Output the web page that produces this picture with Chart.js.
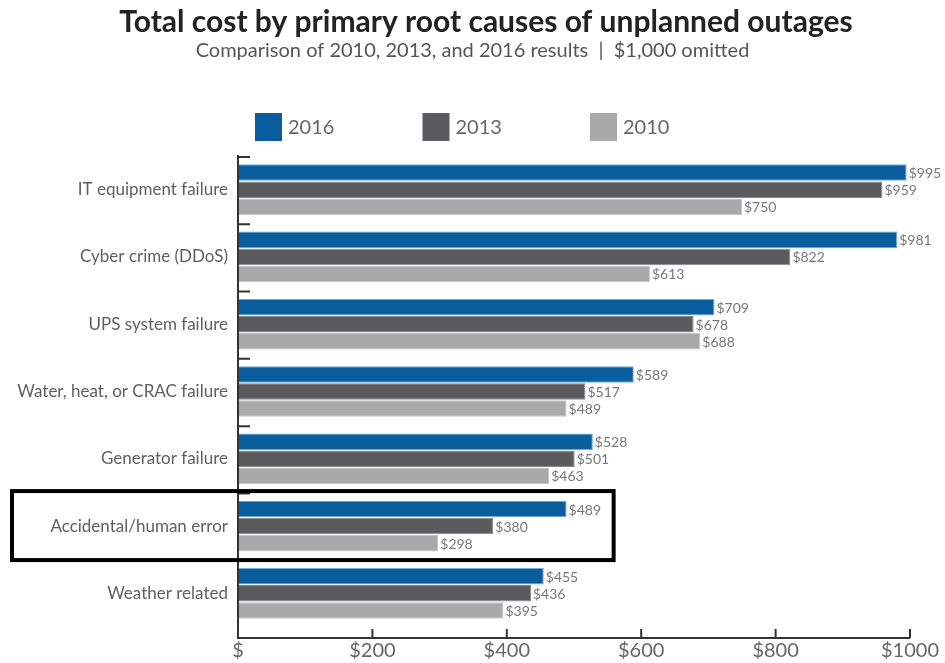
<!DOCTYPE html>
<html>
<head>
<meta charset="utf-8">
<script src="https://cdn.jsdelivr.net/npm/chart.js@4.4.1/dist/chart.umd.min.js"></script>
<style>
  html, body { margin: 0; padding: 0; background: #fff; }
  #wrap { width: 945px; height: 663px; position: relative; }
</style>
</head>
<body>
<div id="wrap"><canvas id="myChart"></canvas></div>
<script>
// data ($1,000 omitted)
const categories = ["IT equipment failure", "Cyber crime (DDoS)", "UPS system failure",
    "Water, heat, or CRAC failure", "Generator failure", "Accidental/human error", "Weather related"];
const years = ["2016", "2013", "2010"];
const cost2016 = [995, 981, 709, 589, 528, 489, 455];
const cost2013 = [959, 822, 678, 517, 501, 380, 436];
const cost2010 = [750, 613, 688, 489, 463, 298, 395];
const xTicks = [0, 200, 400, 600, 800, 1000];
const highlighted = "Accidental/human error";
const titleText = "Total cost by primary root causes of unplanned outages";

const colors = ["#0b5e9d", "#5b5b5d", "#a9a9a9"];
const borders = ["#6aaee0", "#8a8a8a", "#c8c8c8"];
const font = "Lato, 'Open Sans', sans-serif";

// title, legend, axis lines, value labels and the highlight box
const decor = {
    id: "decor",
    afterDatasetsDraw(chart) {
        const ctx = chart.ctx;
        ctx.save();
        ctx.font = "14px " + font;
        ctx.fillStyle = "#777";
        ctx.textBaseline = "middle";
        ctx.textAlign = "left";
        chart.data.datasets.forEach((ds, i) => {
            chart.getDatasetMeta(i).data.forEach((bar, j) => {
                ctx.fillText("$" + ds.data[j], bar.x + 2, bar.y + 1);
            });
        });
        ctx.restore();
    },
    afterDraw(chart) {
        const ctx = chart.ctx;
        const area = chart.chartArea;
        const x = chart.scales.x, y = chart.scales.y;
        const axisY = area.bottom + 11;
        ctx.save();

        // title (sits a little right of centre in the original)
        ctx.font = "bold 30px " + font;
        ctx.fillStyle = "#222";
        ctx.textAlign = "center";
        ctx.textBaseline = "middle";
        ctx.fillText(titleText, 486, 22);

        // legend
        ctx.font = "20px " + font;
        ctx.textAlign = "left";
        chart.data.datasets.forEach((ds, i) => {
            const lx = area.left + 17 + i * 167.5;
            ctx.fillStyle = ds.backgroundColor;
            ctx.fillRect(lx, 113, 27, 28);
            ctx.fillStyle = "#666";
            ctx.fillText(ds.label, lx + 33, 128);
        });

        // axes
        ctx.strokeStyle = "#333";
        ctx.lineWidth = 2;
        ctx.beginPath();
        ctx.moveTo(area.left, area.top - 1);
        ctx.lineTo(area.left, axisY);
        ctx.lineTo(x.getPixelForValue(1000), axisY);
        xTicks.slice(1).forEach(v => {
            const px = x.getPixelForValue(v);
            ctx.moveTo(px, axisY);
            ctx.lineTo(px, axisY - 9);
        });
        const step = (area.bottom - area.top) / categories.length;
        for (let i = 0; i < categories.length; i++) {
            const py = area.top + i * step + 1;
            ctx.moveTo(area.left, py);
            ctx.lineTo(area.left + 12, py);
        }
        ctx.stroke();

        // highlight box
        const idx = categories.indexOf(highlighted);
        const cy = y.getPixelForValue(idx);
        ctx.strokeStyle = "#000";
        ctx.lineWidth = 4;
        ctx.strokeRect(12, cy - 35, x.getPixelForValue(559) - 12, 69);
        ctx.restore();
    }
};

const ctx = document.getElementById("myChart").getContext("2d");
const myChart = new Chart(ctx, {
    type: "bar",
    data: {
        labels: categories,
        datasets: [
            { label: years[0], data: cost2016, backgroundColor: colors[0], borderColor: borders[0] },
            { label: years[1], data: cost2013, backgroundColor: colors[1], borderColor: borders[1] },
            { label: years[2], data: cost2010, backgroundColor: colors[2], borderColor: borders[2] }
        ]
    },
    options: {
        indexAxis: "y",
        responsive: true,
        maintainAspectRatio: false,
        animation: false,
        datasets: {
            bar: { barPercentage: 0.97, categoryPercentage: 0.76, borderWidth: 1, borderSkipped: false }
        },
        layout: { padding: 0 },
        plugins: {
            legend: { display: false },
            tooltip: { enabled: false },
            subtitle: {
                display: true,
                text: "Comparison of 2010, 2013, and 2016 results  |  $1,000 omitted",
                color: "#555",
                font: { family: font, size: 20 },
                padding: { top: 39, bottom: 93 }
            }
        },
        scales: {
            x: {
                min: 0,
                max: 1000,
                afterBuildTicks: scale => { scale.ticks = xTicks.map(v => ({ value: v })); },
                afterFit: scale => { scale.height = 36; scale.paddingLeft = 0; scale.paddingRight = 35; },
                grid: { display: false, drawTicks: false },
                border: { display: false },
                ticks: {
                    padding: 12,
                    maxRotation: 0,
                    color: "#666",
                    font: { family: font, size: 20 },
                    callback: v => v === 0 ? "$" : "$" + v
                }
            },
            y: {
                afterFit: scale => { scale.width = 238; },
                grid: { display: false, drawTicks: false },
                border: { display: false },
                ticks: {
                    padding: 10,
                    color: "#5f5f5f",
                    font: { family: font, size: 17 }
                }
            }
        }
    },
    plugins: [decor]
});
</script>
</body>
</html>
